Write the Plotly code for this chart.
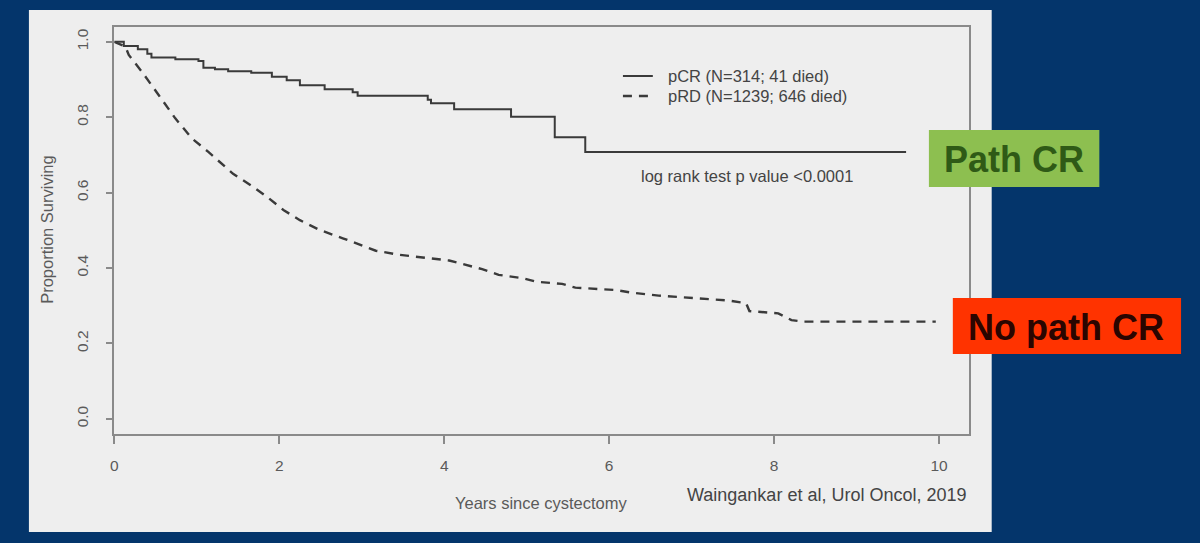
import plotly.graph_objects as go

# ---- data ----
pcr_years = [0, 0.115, 0.285, 0.40, 0.45, 0.74, 1.02, 1.08, 1.22, 1.38, 1.66, 1.91, 2.09,
             2.25, 2.55, 2.89, 2.95, 3.80, 3.84, 4.12, 4.81, 5.34, 5.71, 9.60]
pcr_surv = [1.0, 0.989, 0.980, 0.968, 0.958, 0.954, 0.949, 0.931, 0.927, 0.922, 0.918, 0.907, 0.898,
            0.885, 0.874, 0.866, 0.857, 0.846, 0.837, 0.821, 0.801, 0.747, 0.708, 0.708]

prd_years = [0, 0.135, 0.175, 0.336, 0.537, 0.739, 0.94, 1.14, 1.44, 1.68, 1.85, 2.05, 2.25, 2.49,
             2.77, 2.93, 3.17, 3.46, 3.82, 4.06, 4.22, 4.46, 4.66, 4.95, 5.11, 5.43, 5.59, 6.07,
             6.27, 6.60, 7.44, 7.66, 7.70, 8.05, 8.21, 8.35, 9.96]
prd_surv = [1.0, 0.987, 0.965, 0.920, 0.859, 0.797, 0.744, 0.708, 0.650, 0.616, 0.589, 0.554, 0.527,
            0.501, 0.479, 0.466, 0.446, 0.435, 0.426, 0.420, 0.411, 0.397, 0.382, 0.373, 0.364,
            0.358, 0.348, 0.342, 0.335, 0.327, 0.314, 0.307, 0.286, 0.280, 0.262, 0.258, 0.258]

series_names = ["pCR (N=314; 41 died)", "pRD (N=1239; 646 died)"]
x_ticks = [0, 2, 4, 6, 8, 10]
y_ticks = [0.0, 0.2, 0.4, 0.6, 0.8, 1.0]
y_tick_labels = ["0.0", "0.2", "0.4", "0.6", "0.8", "1.0"]

W, H = 1200, 543
def px(x):
    return x / W
def py(y):
    return 1 - y / H

FONT = "Liberation Sans, Arial, Helvetica, sans-serif"
LINE = "#3a3a3a"
AXIS = "#8a8a8a"
TXT = "#5a5a5a"
DASH = "9px,7px"

fig = go.Figure()
fig.add_trace(go.Scatter(x=pcr_years, y=pcr_surv, mode="lines", name=series_names[0],
                         line=dict(color=LINE, width=2, shape="hv")))
fig.add_trace(go.Scatter(x=prd_years, y=prd_surv, mode="lines", name=series_names[1],
                         line=dict(color=LINE, width=2.4, dash=DASH)))

fig.update_layout(
    width=W, height=H, autosize=False,
    margin=dict(l=0, r=0, t=0, b=0),
    paper_bgcolor="#04356b",
    plot_bgcolor="rgba(0,0,0,0)",
    font=dict(family=FONT, color=TXT),
    showlegend=False,
    xaxis=dict(domain=[px(110.7), px(968)], range=[0, 10.36], tickvals=x_ticks,
               showgrid=False, zeroline=False, showline=True, mirror=True,
               linecolor=AXIS, linewidth=1.5, ticks="outside", ticklen=8, tickcolor=AXIS,
               tickwidth=1.5, tickfont=dict(size=15.5, color=TXT), ticklabelstandoff=9),
    yaxis=dict(domain=[py(434), py(26.7)], range=[-0.04, 1.04], tickvals=y_ticks,
               ticktext=y_tick_labels, tickangle=-90,
               showgrid=False, zeroline=False, showline=True, mirror=True,
               linecolor=AXIS, linewidth=1.5, ticks="outside", ticklen=7, tickcolor=AXIS,
               tickwidth=1.5, tickfont=dict(size=15.5, color=TXT), ticklabelstandoff=11),
)

shapes = [
    dict(type="rect", xref="paper", yref="paper", x0=px(25), x1=px(991), y0=py(532), y1=py(10),
         fillcolor="#eeeeee", line=dict(width=0), layer="below"),
    # legend samples
    dict(type="line", xref="paper", yref="paper", x0=px(621), x1=px(651), y0=py(76), y1=py(76),
         line=dict(color=LINE, width=2)),
    dict(type="line", xref="paper", yref="paper", x0=px(621), x1=px(651), y0=py(96), y1=py(96),
         line=dict(color=LINE, width=2.4, dash=DASH)),
    dict(type="rect", xref="paper", yref="paper", x0=px(928), x1=px(1099), y0=py(187), y1=py(130),
         fillcolor="#8dbf50", line=dict(width=0), layer="above"),
    dict(type="rect", xref="paper", yref="paper", x0=px(952), x1=px(1181), y0=py(354), y1=py(298),
         fillcolor="#ff3300", line=dict(width=0), layer="above"),
]
fig.update_layout(shapes=shapes)

annotations = [
    dict(text=series_names[0], x=px(664), y=py(76), xanchor="left",
         font=dict(size=16.5, color="#444444")),
    dict(text=series_names[1], x=px(664), y=py(96), xanchor="left",
         font=dict(size=16.5, color="#444444")),
    dict(text="Proportion Surviving", x=px(43), y=py(229), textangle=-90,
         font=dict(size=16.5, color=TXT)),
    dict(text="Years since cystectomy", x=px(539), y=py(503),
         font=dict(size=16.5, color=TXT)),
    dict(text="Waingankar et al, Urol Oncol, 2019", x=px(967), y=py(495), xanchor="right",
         font=dict(size=18, color="#444444")),
    dict(text="log rank test p value <0.0001", x=px(637), y=py(176), xanchor="left",
         font=dict(size=16.5, color="#444444")),
    dict(text="<b>Path CR</b>", x=px(1013), y=py(159),
         font=dict(size=36, color="#2f5a16")),
    dict(text="<b>No path CR</b>", x=px(1066), y=py(327),
         font=dict(size=36, color="#2a0500")),
]
for a in annotations:
    a.setdefault("xref", "paper")
    a.setdefault("yref", "paper")
    a.setdefault("showarrow", False)
    a.setdefault("xanchor", "center")
    a.setdefault("yanchor", "middle")
fig.update_layout(annotations=annotations)

fig.write_html("out.html")
